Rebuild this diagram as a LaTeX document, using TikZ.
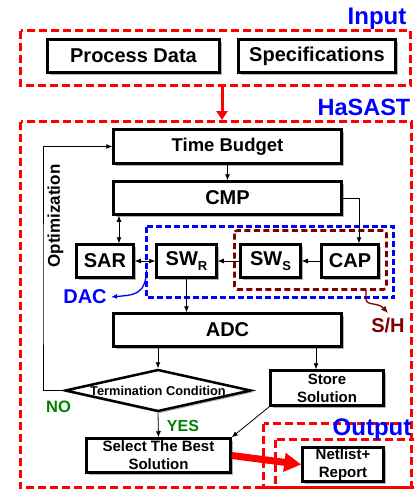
\documentclass[tikz,border=0pt]{standalone}
\usepackage{fontspec}
\setmainfont{Liberation Sans}
\usetikzlibrary{arrows.meta,shapes.geometric,shadows}
\definecolor{hred}{RGB}{255,0,0}
\definecolor{hblue}{RGB}{0,0,255}
\definecolor{hgreen}{RGB}{0,128,0}
\definecolor{hmaroon}{RGB}{128,0,0}
\newcommand{\myfs}[1]{\fontsize{#1}{#1}\selectfont}
\newcommand{\mysub}[1]{\raisebox{-0.28em}{\myfs{13}#1}}
\begin{document}
\begin{tikzpicture}[x=1pt,y=-1pt,
 box/.style={draw,line width=2.5pt,fill=white,inner sep=0pt,align=center,
   drop shadow={shadow xshift=2pt,shadow yshift=-2pt,fill=black!50,opacity=0.6}},
 arr/.style={-{Latex[length=6pt,width=5pt]},line width=0.8pt},
 darr/.style={{Latex[length=6pt,width=5pt]}-{Latex[length=6pt,width=5pt]},line width=0.8pt},
 reddash/.style={draw=hred,line width=3pt,dash pattern=on 8pt off 4pt},
 lbl/.style={anchor=base,inner sep=0pt}
]
\useasboundingbox (0,0) rectangle (414,491);
% dashed containers
\draw[reddash] (20.5,30.5) rectangle (410.5,85.5);
\draw[reddash] (20.5,121.5) rectangle (411.5,487.5);
\draw[reddash] (263.5,423.5) rectangle (430,487.5);
\draw[reddash] (275.5,439.5) rectangle (430,487.5);
\draw[draw=hblue,line width=2.6pt,dash pattern=on 6pt off 3pt] (146.5,226.5) rectangle (393.5,297.5);
\draw[draw=hmaroon,line width=2.6pt,dash pattern=on 6pt off 3.5pt,rounded corners=3pt] (234.5,230.5) rectangle (386.5,289.5);

% boxes
\node[box,minimum width=172pt,minimum height=33pt,font=\bfseries\myfs{20}] (proc) at (133.5,56) {Process Data};
\node[box,minimum width=157pt,minimum height=33pt,font=\bfseries\myfs{20}] (spec) at (317,56) {Specifications};
\node[box,minimum width=228pt,minimum height=34pt,font=\bfseries\myfs{18.5}] (tb) at (227.5,146.5) {Time Budget};
\node[box,minimum width=228pt,minimum height=33pt,font=\bfseries\myfs{20}] (cmp) at (227.5,198) {CMP};
\node[box,minimum width=57pt,minimum height=33pt,font=\bfseries\myfs{20}] (sar) at (105,261) {SAR};
\node[box,minimum width=60pt,minimum height=33pt,font=\bfseries\myfs{20}] (swr) at (186.5,261) {SW\mysub{R}};
\node[box,minimum width=60pt,minimum height=33pt,font=\bfseries\myfs{20}] (sws) at (270.5,261) {SW\mysub{S}};
\node[box,minimum width=57pt,minimum height=33pt,font=\bfseries\myfs{20}] (cap) at (350,261) {CAP};
\node[box,minimum width=228pt,minimum height=33pt,font=\bfseries\myfs{20}] (adc) at (227.5,330) {ADC};
\node[box,diamond,aspect=4.4,minimum width=186pt,minimum height=42pt,font=\bfseries\myfs{12.8}] (dia) at (158,390.5) {Termination Condition};
\node[box,minimum width=113pt,minimum height=35pt,font=\bfseries\fontsize{15}{18}\selectfont] (store) at (327,388) {Store\\Solution};
\node[box,minimum width=144pt,minimum height=34pt,font=\bfseries\fontsize{15}{18}\selectfont] (sel) at (158.5,455.5) {Select The Best\\Solution};
\node[box,minimum width=81pt,minimum height=34pt,font=\bfseries\fontsize{15}{18}\selectfont] (net) at (343,464.5) {Netlist+\\Report};

% connectors
\coordinate (fb) at (43,300);
\draw[arr] (dia.west) -| (fb) |- (tb.west);
\draw[arr] (tb.south) -- (cmp.north);
\draw[arr] (cmp.east) -| ([xshift=9pt]cap.north);
\draw[darr] ([xshift=14pt]sar.north) -- ([xshift=14pt]sar.north |- cmp.south);
\draw[darr] (sar.east) -- (swr.west);
\draw[arr] (sws.west) -- (swr.east);
\draw[arr] (cap.west) -- (sws.east);
\draw[arr] (swr.south) -- (swr.south |- adc.north);
\draw[arr] (dia.north |- adc.south) -- (dia.north);
\draw[arr] ([xshift=-11pt]store.north |- adc.south) -- ([xshift=-11pt]store.north);
\draw[arr] (dia.south) -- (sel.north);
\draw[arr] (store.south west) -- (sel.north east);

% red arrows
\coordinate (inbot) at (222,87);
\coordinate (hatop) at (222,120);
\draw[draw=hred,line width=3pt,-{Triangle[length=9pt,width=11pt]}] (inbot) -- (hatop);
\draw[draw=hred,line width=7pt,-{Triangle[length=17pt,width=18pt]}] (sel.east) -- (net.west);

% DAC and S/H pointers
\node[lbl,text=hblue,font=\bfseries\myfs{20}] (dac) at (85,303) {DAC};
\node[lbl,text=hmaroon,font=\bfseries\myfs{20}] (sh) at (388,332) {S/H};
\coordinate (dacs) at (146.5,270);
\coordinate (dace) at (111,297);
\draw[draw=hblue,line width=1.3pt,-{Latex[length=6pt,width=5pt]}] (dacs) .. controls (146,296) and (132,295) .. (dace);
\coordinate (shs) at (366,290);
\coordinate (she) at (388,313);
\draw[draw=hmaroon,line width=1.3pt,-{Latex[length=7pt,width=6pt]}] (shs) -- (366,299) .. controls (366,306) and (378,302) .. (she);

% labels
\node[lbl,text=hblue,font=\bfseries\myfs{24}] (lin) at (377,24) {Input};
\node[lbl,text=hblue,font=\bfseries\myfs{23.5}] (lha) at (364,115.5) {HaSAST};
\node[lbl,text=hblue,font=\bfseries\myfs{24}] (lout) at (372,435) {Output};
\node[lbl,text=hgreen,font=\bfseries\myfs{16.5}] (lno) at (58.5,412) {NO};
\node[lbl,text=hgreen,font=\bfseries\myfs{16}] (lyes) at (183,431) {YES};
\node[rotate=90,inner sep=0pt,font=\bfseries\myfs{17}] (opt) at (55.5,216) {Optimization};
\end{tikzpicture}
\end{document}
